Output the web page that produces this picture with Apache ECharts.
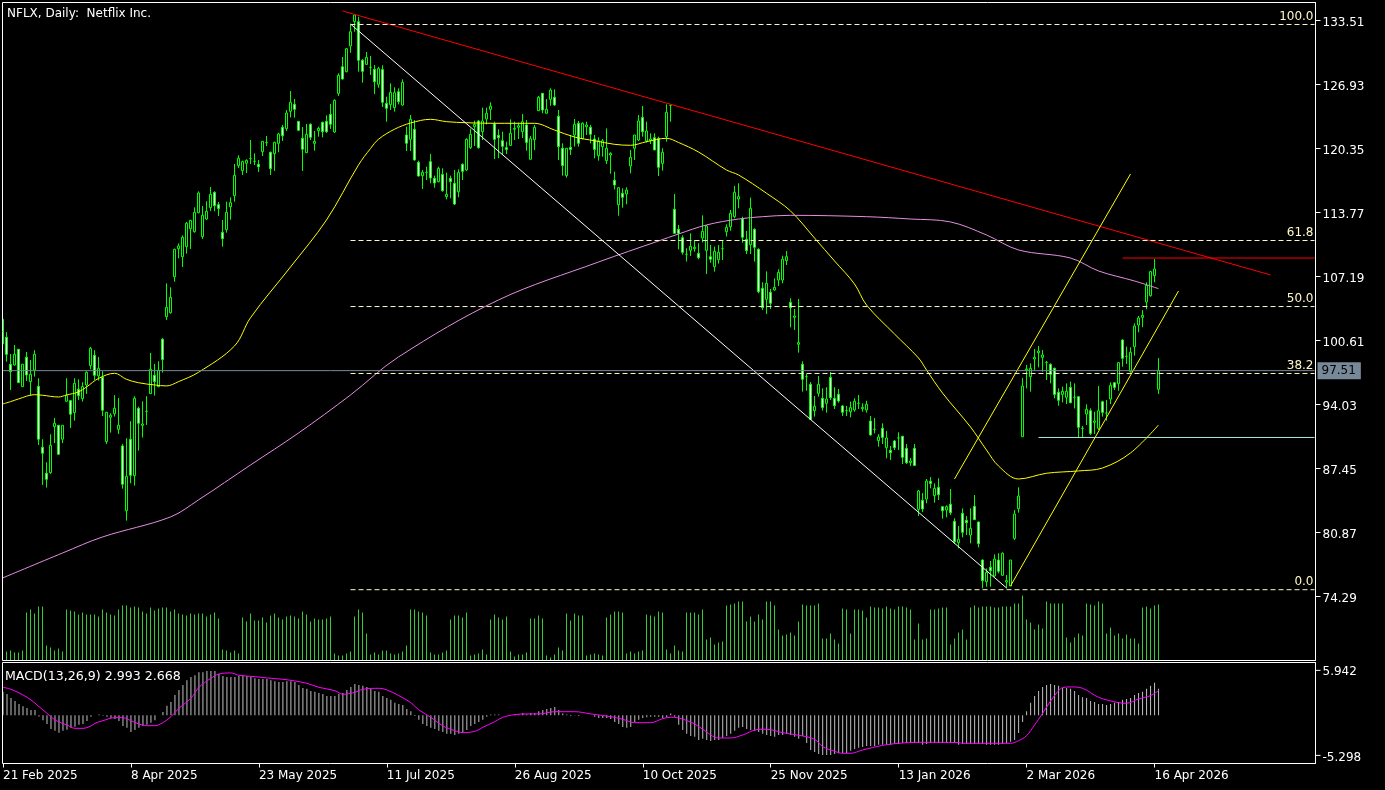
<!DOCTYPE html>
<html>
<head>
<meta charset="utf-8">
<title>NFLX, Daily</title>
<script src="https://cdn.jsdelivr.net/npm/echarts@6/dist/echarts.min.js"></script>
<style>
html, body { margin: 0; padding: 0; background: #000; }
#chart { width: 1385px; height: 790px; }
</style>
</head>
<body>
<div id="chart"></div>
<script>
// Bar slots run past the last candle, MT4 leaves a shift on the right side
var slotCount = 329;
var tickEvery = 32;
var dateLabels = ['21 Feb 2025', '8 Apr 2025', '23 May 2025', '11 Jul 2025', '26 Aug 2025', '10 Oct 2025',
    '25 Nov 2025', '13 Jan 2026', '2 Mar 2026', '16 Apr 2026'];
var priceTicks = [133.51, 126.93, 120.35, 113.77, 107.19, 100.61, 94.03, 87.45, 80.87, 74.29];
var macdTicks = [5.942, -5.298];
var lastPrice = 97.51;

// open, close, low, high
var candles = [
[100.26,102.79,100.26,102.79],[100.94,99.19,98.44,101.46],[98.17,97.41,95.53,99.23],[98.10,99.19,98.03,100.15],[99.71,96.28,96.28,99.71],
[95.87,98.17,95.87,98.17],[98.89,97.07,96.45,99.43],[96.38,97.14,94.91,98.61],[97.58,99.19,96.9,99.61],[95.9,90.46,89.87,96.73],
[89.63,89.02,85.76,90.46],[86.96,86.34,85.49,88.09],[87.03,89.84,86.89,90.97],[91.76,92.1,90.06,92.65],[91.89,88.91,88.91,91.89],
[90.46,91.89,90.06,91.89],[94.36,94.94,94.33,96.73],[94.43,93.03,91.62,94.5],[93.2,96.21,92.37,96.73],[95.6,94.94,94.5,96.62],
[94.64,95.87,94.33,96.32],[96.04,97.34,95.12,97.45],[98.03,99.81,97.65,99.95],[99.09,97.03,96.56,99.61],[96.97,97.75,96.49,98.92],
[96.83,93.44,92.85,97.45],[90.22,93.23,89.98,93.27],[92.72,92.92,91.14,93.13],[93.09,93.64,92.79,94.98],[91.48,91.89,91.0,94.7],
[89.77,85.83,85.38,89.98],[83.12,86.65,82.09,90.56],[90.46,86.75,85.93,92.31],[86.72,94.67,85.69,94.88],[93.64,92.1,89.29,93.81],
[91.89,92.03,90.63,94.36],[93.33,93.33,91.93,94.88],[95.15,97.65,95.12,99.33],[97.03,96.38,94.94,98.2],[95.87,97.55,95.8,98.47],
[100.74,98.65,97.31,100.87],[103.06,104.02,102.72,106.49],[103.47,105.05,103.37,106.08],[107.17,109.98,106.66,110.05],[110.05,110.33,109.06,110.6],
[109.23,111.22,108.17,111.42],[110.26,112.66,109.54,112.8],[112.11,112.97,110.02,113.0],[111.8,113.79,111.7,114.3],[113.75,115.78,113.69,115.95],
[111.29,113.48,111.05,114.44],[113.1,113.89,113.0,114.92],[114.27,115.64,113.92,116.39],[115.84,114.47,113.89,115.95],[114.58,114.17,113.41,114.85],
[111.73,111.08,110.26,113.0],[112.01,113.79,111.7,114.88],[114.37,114.78,113.03,115.33],[115.5,117.59,114.88,118.76],[118.59,119.34,118.35,119.65],
[118.07,119.0,117.63,119.1],[118.83,119.13,117.83,119.24],[119.31,119.31,118.76,121.22],[119.03,119.03,118.65,119.85],[118.72,118.48,117.94,119.17],
[120.03,121.09,119.58,121.12],[120.95,120.95,120.6,121.64],[119.96,118.28,117.63,120.03],[119.82,120.98,118.04,121.05],[120.88,121.84,119.96,121.98],
[122.53,121.67,121.12,122.77],[122.39,124.0,122.15,124.31],[124.17,125.1,123.55,126.26],[124.89,124.38,123.52,125.44],[123.14,122.22,122.22,123.14],
[121.4,120.27,118.04,122.56],[119.92,121.81,119.89,122.87],[122.84,121.5,121.22,122.94],[120.88,121.09,120.13,122.15],[122.18,122.42,121.57,122.6],
[123.04,122.08,121.5,123.11],[123.14,122.08,121.94,123.76],[123.86,122.84,122.36,124.93],[122.05,125.3,121.94,125.41],[126.02,127.87,125.75,128.08],
[128.76,127.5,127.43,129.76],[128.25,130.61,128.18,130.68],[130.89,132.36,130.2,133.12],[133.39,134.08,132.36,134.18],[133.39,129.42,128.25,133.9],
[129.42,128.28,127.12,129.55],[129.0,129.72,128.94,130.27],[128.7,128.7,127.91,129.86],[128.49,127.22,125.95,128.94],[126.95,128.56,126.6,128.76],
[128.46,125.1,124.62,128.9],[124.99,124.48,123.11,125.68],[124.86,126.12,124.31,127.05],[124.55,126.09,124.14,126.64],[126.19,125.16,124.89,126.54],
[124.82,127.15,124.75,127.46],[121.74,120.88,120.09,122.59],[121.29,123.35,120.09,123.79],[122.32,119.17,119.1,123.28],[118.93,117.52,117.45,119.1],
[117.56,117.9,116.19,118.14],[117.9,117.9,117.11,118.48],[119.0,117.32,116.77,119.78],[117.28,116.8,116.32,117.56],[116.94,118.31,116.87,118.48],
[117.69,116.01,115.91,118.31],[115.4,115.64,115.12,117.87],[117.28,116.94,115.23,117.56],[116.77,114.64,114.54,118.14],[115.91,117.87,115.33,118.21],
[118.72,118.0,117.11,118.82],[118.14,121.29,118.04,121.39],[120.44,121.81,120.3,122.39],[122.59,122.83,120.61,123.21],[123.18,120.44,120.33,123.28],
[122.08,123.18,121.22,124.55],[123.38,123.97,122.83,124.55],[124.38,124.69,123.28,125.1],[122.87,121.29,119.27,123.11],[121.7,121.46,119.34,122.32],
[121.15,120.57,119.68,122.08],[120.44,120.26,119.78,121.05],[120.67,121.91,120.61,123.35],[122.32,122.42,121.22,123.11],[122.53,122.7,121.33,123.01],
[122.08,123.11,121.43,123.9],[122.77,120.98,120.13,123.28],[119.24,121.36,119.24,121.63],[121.26,122.53,120.2,122.77],[124.24,125.61,124.2,125.75],
[126.02,124.31,123.97,126.02],[123.97,124.38,123.97,125.44],[125.4,126.36,124.75,126.54],[125.61,124.82,124.75,126.43],[123.66,120.54,119.17,124.31],
[120.37,118.6,117.56,120.88],[117.56,120.37,117.35,120.37],[120.47,120.26,119.68,121.74],[121.74,122.83,120.54,123.38],[122.94,120.88,120.54,123.18],
[121.39,122.94,121.29,123.04],[122.59,122.77,121.74,123.11],[122.53,121.81,120.88,122.77],[121.33,120.26,119.34,121.74],[119.61,121.15,119.1,121.5],
[120.54,121.15,119.51,121.33],[119.1,120.37,118.76,122.42],[119.68,119.85,117.76,119.96],[117.08,116.6,116.15,117.97],[114.57,116.32,113.44,116.36],
[115.74,115.33,114.27,116.25],[115.67,116.08,114.61,116.36],[118.55,119.44,117.8,120.2],[120.37,121.74,119.17,121.74],[121.22,123.18,121.12,123.79],
[123.55,122.08,121.57,124.72],[121.12,122.15,120.95,123.11],[121.15,121.33,120.81,121.91],[121.46,120.2,120.2,121.91],[121.39,118.41,117.52,121.57],
[118.82,119.96,118.07,120.37],[121.57,124.07,121.05,124.89],[124.79,124.79,123.11,124.82],[114.1,111.63,111.63,115.67],[112.04,111.63,109.98,112.49],
[111.18,109.68,109.44,111.42],[109.47,109.47,108.72,110.09],[109.88,110.29,109.3,111.63],[110.05,110.19,109.74,110.94],[109.57,109.13,108.96,110.6],
[111.15,111.83,110.7,113.48],[109.88,112.38,107.45,112.49],[109.23,108.96,108.61,110.43],[108.2,109.78,107.69,110.26],[108.92,109.68,108.51,110.43],
[110.05,110.05,108.89,110.87],[111.8,112.25,111.29,112.55],[112.31,113.69,111.9,114.03],[113.34,115.84,113.17,116.5],[115.16,115.4,114.2,116.77],
[113.1,111.22,110.67,113.34],[111.01,109.85,109.5,111.87],[110.46,114.2,109.5,115.3],[112.04,110.19,108.72,112.14],[109.98,105.63,105.46,110.09],
[105.97,103.99,103.75,106.59],[104.84,106.49,103.34,107.72],[105.56,104.43,103.85,105.91],[105.8,106.08,105.73,107.0],[106.83,107.62,106.21,107.93],
[106.83,108.96,106.49,109.33],[108.82,109.23,108.37,109.81],[104.53,103.99,101.96,104.95],[102.99,103.13,101.69,103.85],[100.22,100.39,99.36,104.88],
[98.16,96.62,95.35,98.47],[96.89,96.89,95.45,97.17],[96.1,92.5,92.44,96.34],[93.4,93.84,92.78,94.9],[95.18,96.1,94.84,96.96],
[94.66,93.71,93.4,95.69],[94.15,94.6,93.19,95.8],[96.82,94.73,94.49,97.37],[94.66,93.91,93.57,95.8],[95.08,94.39,94.22,95.62],
[93.88,93.23,92.85,93.98],[93.4,93.4,92.85,93.88],[93.29,93.71,92.71,94.32],[93.47,94.36,93.29,94.67],[94.15,94.15,93.57,95.01],
[93.6,93.74,93.29,94.15],[93.47,94.05,93.19,94.42],[92.33,90.9,90.83,92.85],[91.48,91.48,91.07,92.64],[90.31,90.69,89.7,90.98],
[91.58,90.65,89.97,92.09],[89.59,90.59,88.5,91.31],[89.32,89.08,88.33,89.76],[90.28,89.59,89.35,90.38],[90.59,90.59,89.35,91.17],
[90.76,88.6,87.91,90.76],[89.52,88.05,87.91,89.97],[88.05,88.22,87.7,88.53],[89.52,87.77,87.7,89.97],[83.25,85.14,82.57,85.24],
[84.18,83.29,82.98,84.92],[84.31,86.16,83.87,86.37],[86.13,85.92,85.41,86.57],[84.66,85.41,83.94,85.92],[85.51,84.76,84.21,86.44],
[83.53,83.11,82.29,83.53],[83.18,83.53,82.43,83.66],[83.77,82.91,82.67,85.34],[82.02,79.93,79.69,82.33],[79.82,80.17,79.24,81.54],
[82.84,80.89,80.37,83.35],[82.12,81.88,80.61,82.57],[80.61,81.3,79.76,83.35],[83.56,82.19,82.15,84.72],[81.95,79.72,79.34,81.98],
[78.04,75.92,75.13,78.11],[75.81,76.77,75.3,77.18],[77.29,76.94,75.3,77.94],[76.4,78.14,76.33,78.62],[78.04,76.88,76.67,78.73],
[76.47,78.73,76.4,78.83],[75.78,75.92,75.13,76.5],[75.37,78.04,75.37,78.04],[80.27,82.77,80.1,83.18],[83.32,84.62,82.91,85.51],
[90.72,95.93,90.72,96.75],[97.58,97.68,95.69,98.09],[96.89,97.75,95.35,98.26],[98.71,98.88,97.58,99.73],[99.36,99.53,97.85,100.04],
[98.88,99.12,97.4,99.63],[98.36,98.36,96.55,98.5],[98.16,97.13,96.21,98.26],[97.75,95.07,94.66,97.82],[95.28,94.46,93.91,95.69],
[95.07,95.38,94.25,95.86],[94.77,95.38,94.08,96.2],[95.79,94.22,94.15,96.38],[94.77,94.77,93.63,96.2],[94.83,91.68,90.65,94.9],
[91.58,91.58,90.65,91.82],[93.05,93.53,91.92,94.05],[93.39,91.06,90.89,93.63],[92.2,92.33,91.0,93.29],[91.58,93.39,91.41,95.93],
[94.32,93.22,92.78,94.42],[93.16,93.16,92.37,94.49],[94.59,96.0,94.08,96.31],[96.27,95.79,95.52,96.31],[96.17,98.33,95.45,98.36],
[100.66,98.78,97.92,100.73],[98.98,98.98,98.2,99.98],[97.44,99.4,97.3,99.91],[99.98,102.1,99.05,102.38],[102.2,102.93,101.45,103.13],
[102.99,103.2,101.97,103.75],[104.57,106.28,103.82,106.59],[105.22,107.69,105.12,107.79],[107.28,107.96,106.59,108.99],[95.6,97.51,95.11,98.81]
];

var volumes = [
9,9,10,8,8,10,48,51,47,54,54,15,13,10,12,9,51,50,49,46,48,46,46,46,44,51,48,46,45,51,55,55,53,54,53,49,47,53,50,52,53,53,49,51,47,46,45,47,46,47,
47,44,46,48,42,11,10,8,10,7,43,39,47,40,40,43,38,45,47,43,41,44,45,44,42,49,46,39,42,41,41,42,44,7,5,5,7,9,44,51,48,27,6,8,6,10,10,7,6,7,
9,15,51,51,49,48,45,8,6,6,8,10,41,45,45,43,48,5,6,7,11,6,41,46,43,41,44,9,4,6,6,8,42,42,45,42,5,3,6,13,10,47,40,47,45,45,5,6,7,6,5,43,46,49,49,48,
7,9,7,9,10,46,45,44,49,48,11,7,15,10,9,48,48,48,46,51,21,23,16,18,19,55,56,57,59,59,39,44,39,46,41,59,59,55,31,25,26,28,25,39,
56,55,55,55,57,22,22,27,21,17,52,51,27,51,51,50,43,54,53,53,52,54,52,51,54,54,53,51,21,37,21,22,51,51,52,53,53,16,22,28,31,21,53,55,53,54,54,54,53,53,54,54,54,57,57,65,
41,38,31,36,32,59,57,57,57,57,23,18,23,27,25,57,56,55,59,57,27,33,25,27,22,26,22,22,17,53,54,52,55,56
];

var macdHist = [
3.1,2.8,2.3,1.9,1.5,1.2,.95,.7,.7,-.15,-.65,-1.15,-1.8,-2.05,-2.3,-2.05,-1.9,-1.65,-1.5,-1.25,-1.15,-.75,-.2,0,.1,-.05,-.2,-.35,-.5,-.75,
-1.4,-1.65,-2.2,-1.95,-1.65,-1.4,-1.25,-1.0,-.65,0,.45,1.25,1.75,2.7,3.35,4.0,4.65,5.05,5.3,5.7,5.7,5.85,5.85,5.85,5.45,5.2,5.05,5.05,5.05,5.2,
5.2,5.2,5.05,4.9,4.8,4.8,4.8,4.65,4.5,4.4,4.4,4.5,4.5,4.4,4.0,3.6,3.5,3.2,3.1,2.95,2.8,2.55,2.55,2.55,2.8,2.95,3.35,3.75,4.15,4.0,
3.9,3.75,3.5,3.2,3.1,2.55,2.3,2.05,1.65,1.5,
1.35,.85,.55,-.1,-.6,-1.15,-1.4,-1.65,-1.8,-2.05,-2.2,-2.45,-2.45,-2.6,-2.45,-2.35,-1.95,-1.4,-1.15,-.9,-.6,-.2,.1,.1,.1,0,0,0,.1,.1,
.3,.15,.3,.3,.55,.7,.85,.95,1.1,.7,.25,.1,-.1,.05,-.1,0,0,0,-.2,-.35,-.35,-.35,-.5,-.9,-1.15,-1.55,-1.65,-1.55,-.9,-.6,
-.35,-.25,-.2,-.2,-.2,-.35,-.25,.25,-.2,-1.25,-1.95,-2.45,-2.75,-2.85,-3.25,-3.1,-3.25,-3.4,-3.25,-3.25,-3.0,-2.75,-2.45,-2.05,-1.65,-1.55,-1.8,-1.95,-2.05,-2.2,
-2.45,-2.6,-2.75,-2.85,-2.6,-2.6,-2.45,-2.6,-2.85,-3.1,
-2.75,-3.65,-4.6,-4.85,-5.1,-5.25,-5.25,-5.25,-5.1,-5.0,-5.0,-5.0,-4.7,-4.45,-4.3,-4.2,-4.05,-4.05,-4.05,-3.9,-3.9,-3.9,-3.9,-3.8,-3.8,-3.65,-3.65,-3.65,-3.65,-3.65,
-3.9,-3.8,-3.65,-3.65,-3.65,-3.65,-3.65,-3.65,-3.65,-3.9,-3.8,-3.8,-3.8,-3.8,-3.8,-3.8,-3.9,-3.9,-3.9,-3.9,-3.8,-3.65,-3.5,-3.25,-2.35,-.9,.55,1.65,2.55,3.2,
3.75,4.0,4.15,4.0,3.9,3.6,3.6,3.5,3.2,2.7,2.4,2.3,1.9,1.75,1.5,1.5,1.35,1.5,1.65,1.75,2.05,2.15,2.3,2.7,2.95,3.1,3.5,3.9,4.3,3.5
];

// Smooth lines at these bars
var signalBars = [0,2,5,7,9,11,13,16,18,20,22,23,25,28,30,32,34,36,38,40,42,44,47,49,52,54,57,59,63,66,70,73,76,79,83,85,88,90,94,96,99,
    102,104,107,110,113,115,118,120,123,125,128,131,134,138,143,147,152,155,158,162,165,167,169,173,175,179,182,185,189,191,195,199,
    200,203,205,208,210,212,215,220,224,229,239,240,252,254,256,258,260,262,264,265,267,270,274,279,281,284,287,289];
var signalValues = [3.7,3.44,2.69,2.03,1.15,.26,-.62,-1.28,-1.72,-1.72,-1.41,-1.06,-.71,-.31,-.31,-.71,-1.15,-1.37,-1.37,-.97,-.18,.93,2.25,3.7,4.89,5.46,5.6,5.29,5.11,4.94,4.76,4.54,4.23,3.7,3.26,2.78,3.04,3.44,3.57,3.35,2.6,
    1.67,.71,-.26,-1.41,-2.03,-2.29,-2.12,-1.59,-.84,-.26,.09,.18,.18,.48,.48,.18,-.18,-.53,-.97,-.97,-.44,-.26,-.35,-1.15,-1.85,-3.0,-3.0,-2.6,-1.85,-1.85,-2.29,-2.64,
    -2.73,-3.17,-4.14,-4.76,-5.02,-5.02,-4.58,-3.97,-3.7,-3.57,-3.61,-3.7,-3.7,-3.35,-2.69,-1.28,.26,1.9,3.26,3.66,3.75,3.57,2.38,1.67,1.59,2.16,2.6,3.26];

var ma50Bars = [0,2,4,8,10,14,16,19,21,24,28,31,34,38,41,44,49,58,62,72,81,89,92,94,98,102,107,111,116,123,133,138,143,148,153,157,161,166,169,174,181,184,191,197,203,208,213,216,223,229,231,235,242,246,249,254,261,269,275,282,289];
var ma50Values = [94.08,94.32,94.6,95.04,94.98,94.8,95.01,95.32,95.83,96.71,97.24,96.62,96.27,96.04,95.94,96.38,97.34,100.05,102.95,108.17,113.0,118.66,120.35,121.3,122.33,122.97,123.35,123.11,123.0,122.94,122.94,122.25,121.53,121.15,120.78,120.68,121.05,121.4,120.97,119.99,118.14,117.63,115.75,113.93,111.15,108.79,106.42,104.26,101.28,98.81,97.58,95.21,91.72,89.35,87.71,86.37,86.96,87.2,87.5,89.05,91.92];

var ma200Bars = [0,15,25,42,49,62,74,87,99,124,149,164,169,176,184,190,197,216,227,237,246,254,267,274,283,289];
var ma200Values = [76.19,78.76,80.41,82.47,84.22,87.81,91.1,95.01,98.92,104.78,108.68,110.84,111.56,112.49,113.1,113.34,113.48,113.34,113.1,112.8,111.46,109.92,109.09,107.76,106.73,105.94];

// Drawn objects on the chart, bar slot and price of both ends
var redTrendBars = [85, 317];
var redTrendPrices = [134.49, 107.35];
var fibDiagonalBars = [87, 251];
var fibDiagonalPrices = [133.15, 75.17];
var channelUpperBars = [238, 282];
var channelUpperPrices = [86.37, 117.73];
var channelLowerBars = [252, 294];
var channelLowerPrices = [75.37, 105.7];
var resistanceBars = [280, 328];
var resistancePrice = 109.09;
var supportBars = [259, 328];
var supportPrice = 90.64;

var fibBars = [87, 328];
var fibLevels = ['100.0', '61.8', '50.0', '38.2', '0.0'];
var fibPrices = [133.1, 110.89, 104.1, 97.22, 74.99];

var uiFont = '"DejaVu Sans"';

function pairs(bars, values) {
    var out = [];
    for (var i = 0; i < bars.length; i++) out.push([bars[i], values[i]]);
    return out;
}

function lineSeries(name, bars, values, color, extra) {
    var s = {
        name: name,
        type: 'line',
        xAxisIndex: 0,
        yAxisIndex: 0,
        data: pairs(bars, values),
        symbol: 'none',
        silent: true,
        animation: false,
        clip: false,
        lineStyle: { color: color, width: 1 }
    };
    for (var k in extra) s[k] = extra[k];
    return s;
}

var slots = [];
for (var s = 0; s < slotCount; s++) slots.push(s);

function slotAxis(gridIndex, showLabels) {
    var isTick = function (i) { return i % tickEvery === 0 && i / tickEvery < dateLabels.length; };
    return {
        type: 'category',
        gridIndex: gridIndex,
        data: slots,
        boundaryGap: false,
        axisLine: { show: false, onZero: false },
        axisTick: { show: showLabels, length: 4, interval: function (i) { return isTick(i); }, lineStyle: { color: '#fff', width: 1 } },
        splitLine: { show: false },
        axisLabel: {
            show: showLabels,
            interval: function (i) { return isTick(i); },
            formatter: function (v, i) { return dateLabels[i / tickEvery]; },
            color: '#fff',
            fontFamily: uiFont,
            fontSize: 12,
            align: 'left',
            margin: 6,
            hideOverlap: false
        }
    };
}

// Right hand scale. Each label starts with its own tick dash, the number sits a little lower
function scaleAxis(gridIndex, min, max, ticks, digits) {
    return {
        type: 'value',
        gridIndex: gridIndex,
        position: 'right',
        offset: 1,
        min: min,
        max: max,
        axisLine: { show: true, onZero: false, lineStyle: { color: '#fff', width: 1 } },
        splitLine: { show: false },
        axisTick: { show: false },
        axisLabel: {
            customValues: ticks,
            formatter: function (v) { return '{d| }{t|' + v.toFixed(digits) + '}'; },
            margin: 0,
            rich: {
                d: { width: 5, height: 1, fontSize: 1, backgroundColor: '#fff' },
                t: { color: '#fff', fontFamily: uiFont, fontSize: 12, padding: [4, 0, 0, 2] }
            }
        }
    };
}

var series = [
    {
        name: 'Volume',
        type: 'bar',
        xAxisIndex: 1,
        yAxisIndex: 1,
        data: volumes,
        barWidth: 1,
        silent: true,
        animation: false,
        itemStyle: { color: '#32cd32' }
    },
    {
        name: 'NFLX',
        type: 'candlestick',
        xAxisIndex: 0,
        yAxisIndex: 0,
        data: candles,
        barWidth: 3,
        silent: true,
        animation: false,
        itemStyle: {
            color: '#000',
            color0: '#fff',
            borderColor: '#00ff00',
            borderColor0: '#00ff00',
            borderWidth: 1
        }
    },
    lineSeries('MA50', ma50Bars, ma50Values, '#ffff00', { smooth: 0.35 }),
    lineSeries('MA200', ma200Bars, ma200Values, '#e48fe4', { smooth: 0.35 }),
    lineSeries('Trend', redTrendBars, redTrendPrices, '#ff0000'),
    lineSeries('Fibo diagonal', fibDiagonalBars, fibDiagonalPrices, '#ffffff'),
    lineSeries('Channel upper', channelUpperBars, channelUpperPrices, '#ffff00'),
    lineSeries('Channel lower', channelLowerBars, channelLowerPrices, '#ffff00'),
    lineSeries('Resistance', resistanceBars, [resistancePrice, resistancePrice], '#ff0000'),
    lineSeries('Support', supportBars, [supportPrice, supportPrice], '#a8e8e0'),
    lineSeries('Last price', [0, slotCount - 1], [lastPrice, lastPrice], '#778899', {
        endLabel: {
            show: true,
            formatter: function () { return lastPrice.toFixed(2); },
            color: '#000',
            backgroundColor: '#778899',
            fontFamily: uiFont,
            fontSize: 12,
            padding: [3, 5, 2, 4],
            distance: 3
        }
    }),
    {
        name: 'MACD',
        type: 'bar',
        xAxisIndex: 2,
        yAxisIndex: 2,
        data: macdHist,
        barWidth: 1,
        silent: true,
        animation: false,
        itemStyle: { color: '#c0c0c0' }
    },
    lineSeries('Signal', signalBars, signalValues, '#ff00ff', { xAxisIndex: 2, yAxisIndex: 2, smooth: 0.35 })
];

// Fibonacci levels, the dashed lines carry their own level text
fibLevels.forEach(function (level, n) {
    series.push(lineSeries('Fibo ' + level, fibBars, [fibPrices[n], fibPrices[n]], '#fff8c8', {
        lineStyle: { color: '#fff8c8', width: 1, type: [5, 3] },
        endLabel: {
            show: true,
            formatter: function () { return level; },
            color: '#fff8c8',
            fontFamily: uiFont,
            fontSize: 12,
            align: 'right',
            verticalAlign: 'bottom',
            offset: [-9, -2]
        }
    }));
});

var option = {
    backgroundColor: '#000',
    animation: false,
    textStyle: { fontFamily: uiFont },
    title: [
        { text: 'NFLX, Daily:  Netflix Inc.', left: 7, top: 8, padding: 0, textStyle: { color: '#fff', fontFamily: uiFont, fontWeight: 'normal', fontSize: 12 } },
        { text: 'MACD(13,26,9) 2.993 2.668', left: 5, top: 670, padding: 0, textStyle: { color: '#fff', fontFamily: uiFont, fontWeight: 'normal', fontSize: 12.6 } }
    ],
    grid: [
        { left: 2.5, width: 1312, top: 2.5, height: 658, show: false },
        { left: 2.5, width: 1312, top: 590.5, height: 70, show: false },
        { left: 2.5, width: 1312, top: 662.5, height: 101, show: false }
    ],
    xAxis: [slotAxis(0, false), slotAxis(1, false), slotAxis(2, true)],
    yAxis: [
        scaleAxis(0, 67.71, 135.361, priceTicks, 2),
        { type: 'value', gridIndex: 1, min: 0, max: 70, show: false },
        scaleAxis(2, -6.37, 6.98, macdTicks, 3)
    ],
    // Panel frame of the terminal window
    graphic: [
        { type: 'rect', silent: true, z: 100, shape: { x: 0, y: 0, width: 2, height: 790 }, style: { fill: '#000' } },
        { type: 'rect', silent: true, z: 100, shape: { x: 2.5, y: 2.5, width: 1313, height: 658 }, style: { fill: 'none', stroke: '#fff', lineWidth: 1 } },
        { type: 'rect', silent: true, z: 100, shape: { x: 2.5, y: 662.5, width: 1313, height: 101 }, style: { fill: 'none', stroke: '#fff', lineWidth: 1 } }
    ],
    series: series
};

var dom = document.getElementById('chart');
var myChart = echarts.init(dom);
myChart.setOption(option);
</script>
</body>
</html>
